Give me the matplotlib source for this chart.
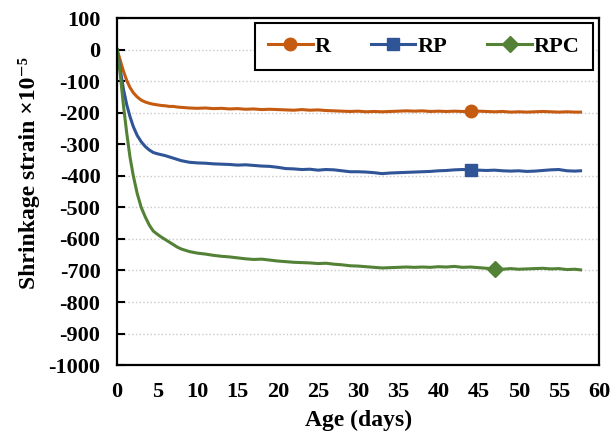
import matplotlib.pyplot as plt

# edad en dias
dias = [0, 0.4, 0.8, 1.2, 1.6, 2.0, 2.5, 3.0, 3.5, 4.0, 4.5, 5, 5.5, 6, 6.5, 7, 7.5, 8,
        9, 10, 11, 12, 13, 14, 15, 16, 17, 18, 19, 20, 21, 22, 23, 24, 25, 26, 27, 28,
        29, 30, 31, 32, 33, 34, 35, 36, 37, 38, 39, 40, 41, 42, 43, 44, 45, 46, 47, 48,
        49, 50, 51, 52, 53, 54, 55, 56, 57, 57.7]

# retraccion (x10^-5)
r = [0, -35, -69, -98, -120, -136, -150, -160, -166, -170, -173, -175, -177, -178, -180, -180, -182, -183,
     -185, -186, -185, -187, -186, -188, -187, -189, -188, -190, -189, -190, -191, -192, -190, -192, -191, -193, -194, -195,
     -196, -195, -197, -196, -197, -196, -195, -194, -195, -194, -196, -195, -196, -195, -196, -196, -195, -196, -197, -196,
     -198, -197, -198, -197, -196, -197, -198, -197, -198, -198]
rp = [0, -65, -127, -175, -212, -243, -272, -292, -307, -318, -326, -330, -333, -336, -340, -344, -348, -352,
      -357, -359, -360, -362, -363, -364, -366, -365, -367, -369, -370, -373, -377, -378, -380, -379, -382, -380, -381, -384,
      -387, -387, -388, -390, -393, -391, -390, -389, -388, -387, -386, -384, -383, -381, -380, -381, -382, -383, -382, -384,
      -385, -384, -386, -385, -383, -381, -380, -384, -385, -384]
rpc = [0, -80, -180, -265, -340, -398, -456, -500, -530, -556, -575, -585, -594, -602, -610, -618, -626, -632,
       -640, -645, -648, -652, -655, -657, -660, -663, -665, -664, -667, -670, -672, -674, -675, -676, -678, -677, -680, -682,
       -685, -686, -688, -690, -692, -691, -690, -689, -690, -689, -690, -688, -689, -687, -690, -689, -691, -693, -695, -696,
       -694, -696, -695, -694, -693, -695, -694, -697, -696, -698]

plt.rcParams['font.family'] = ['Liberation Serif', 'DejaVu Serif']
plt.rcParams['font.weight'] = 'bold'
plt.rcParams['axes.unicode_minus'] = False

fig = plt.figure(figsize=(6.1, 4.41), dpi=100)
ax = fig.add_axes([0.192, 0.172, 0.79, 0.787])

ax.plot(dias, r, color="#C55A11", lw=2.2, marker="o", ms=9, markevery=[dias.index(44)], label="R")
ax.plot(dias, rp, color="#2F5597", lw=2.2, marker="s", ms=8.5, markevery=[dias.index(44)], label="RP")
ax.plot(dias, rpc, color="#538135", lw=2.2, marker="D", ms=8, markevery=[dias.index(47)], label="RPC")

ax.set_xlim(0, 60)
ax.set_ylim(-1000, 100)
ax.set_xticks(range(0, 61, 5))
ax.set_yticks(range(-1000, 101, 100))
ax.yaxis.grid(True, color="#c8c8c8", linestyle=":", lw=1)
ax.set_axisbelow(True)
ax.tick_params(axis="y", direction="in", length=6, width=1.5, pad=12, labelsize=16)
ax.tick_params(axis="x", length=0, pad=12, labelsize=16)
for s in ax.spines.values():
    s.set_linewidth(1.6)

ax.set_xlabel("Age (days)", fontsize=17, fontweight="bold", labelpad=6)
ax.set_ylabel("Shrinkage strain \u00d710\u207b\u2075", fontsize=17, fontweight="bold", labelpad=6)
ax.yaxis.label.set_y(0.553)

leg = ax.legend(ncol=3, loc="upper right", bbox_to_anchor=(0.988, 0.986), borderaxespad=0,
                fancybox=False, edgecolor="black", framealpha=1, fontsize=16, handlelength=2.0,
                columnspacing=1.8, borderpad=0.6, handletextpad=0.1)
leg.get_frame().set_linewidth(1.5)

plt.savefig("out.png")
